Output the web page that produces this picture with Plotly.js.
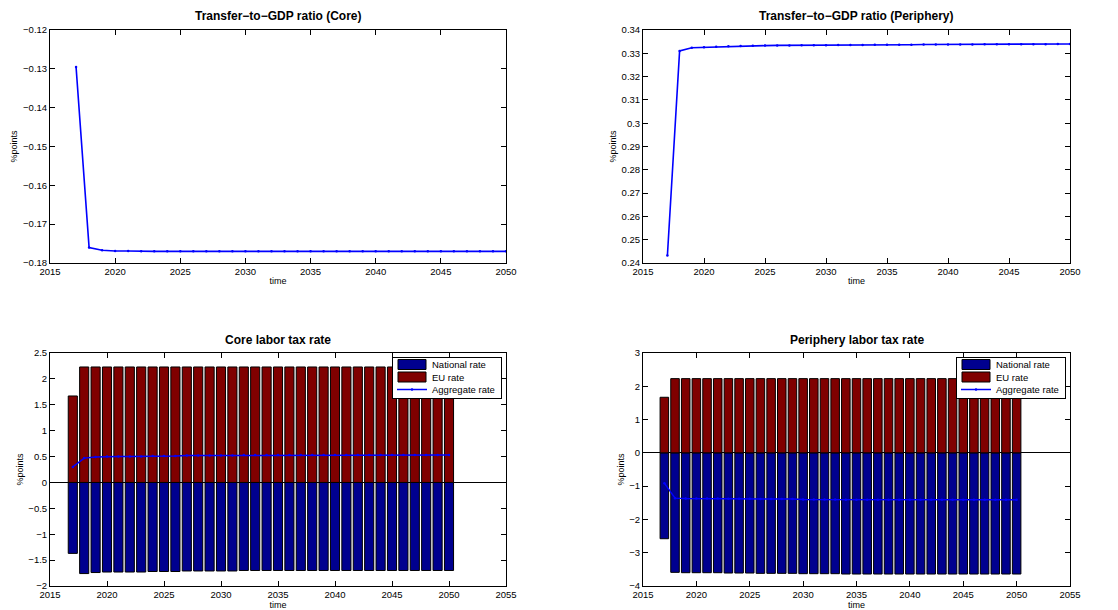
<!DOCTYPE html>
<html><head><meta charset="utf-8">
<script src="https://cdn.plot.ly/plotly-3.0.1.min.js"></script>
<style>html,body{margin:0;padding:0;background:#fff}#c{width:1118px;height:610px}</style>
</head><body><div id="c"></div>
<script>
const years = [2017,2018,2019,2020,2021,2022,2023,2024,2025,2026,2027,2028,2029,2030,2031,2032,2033,2034,2035,2036,2037,2038,2039,2040,2041,2042,2043,2044,2045,2046,2047,2048,2049,2050];

const transferCore = [-0.1295,-0.1760,-0.1767,-0.1769,-0.1769,-0.1770,-0.1770,-0.1770,-0.1770,-0.1770,-0.1770,-0.1770,-0.1770,-0.1770,-0.1770,-0.1770,-0.1770,-0.1770,-0.1770,-0.1770,-0.1770,-0.1770,-0.1770,-0.1770,-0.1770,-0.1770,-0.1770,-0.1770,-0.1770,-0.1770,-0.1770,-0.1770,-0.1770,-0.1770];
const transferPeriphery = [0.2432,0.3310,0.3324,0.3326,0.3328,0.3330,0.3331,0.3332,0.3333,0.3334,0.3334,0.3335,0.3335,0.3335,0.3336,0.3336,0.3336,0.3337,0.3337,0.3337,0.3337,0.3338,0.3338,0.3338,0.3338,0.3338,0.3339,0.3339,0.3339,0.3339,0.3339,0.3339,0.3340,0.3340];

const coreNational = [-1.37,-1.76,-1.74,-1.73,-1.73,-1.73,-1.73,-1.72,-1.72,-1.72,-1.71,-1.71,-1.71,-1.71,-1.71,-1.70,-1.70,-1.70,-1.70,-1.70,-1.70,-1.70,-1.70,-1.70,-1.70,-1.70,-1.70,-1.70,-1.70,-1.70,-1.70,-1.70,-1.70,-1.70];
const coreEU = [1.67,2.23,2.23,2.23,2.23,2.23,2.23,2.23,2.23,2.23,2.23,2.23,2.23,2.23,2.23,2.23,2.23,2.23,2.23,2.23,2.23,2.23,2.23,2.23,2.23,2.23,2.23,2.23,2.23,2.23,2.23,2.23,2.23,2.23];
const coreAggregate = [0.30,0.47,0.49,0.50,0.50,0.50,0.50,0.51,0.51,0.51,0.52,0.52,0.52,0.52,0.52,0.53,0.53,0.53,0.53,0.53,0.53,0.53,0.53,0.53,0.53,0.53,0.53,0.53,0.53,0.53,0.53,0.53,0.53,0.53];

const periNational = [-2.58,-3.59,-3.60,-3.60,-3.60,-3.60,-3.61,-3.61,-3.61,-3.62,-3.62,-3.62,-3.62,-3.63,-3.63,-3.63,-3.63,-3.64,-3.64,-3.64,-3.64,-3.64,-3.64,-3.64,-3.64,-3.64,-3.64,-3.64,-3.64,-3.64,-3.64,-3.64,-3.64,-3.64];
const periEU = [1.67,2.23,2.23,2.23,2.23,2.23,2.23,2.23,2.23,2.23,2.23,2.23,2.23,2.23,2.23,2.23,2.23,2.23,2.23,2.23,2.23,2.23,2.23,2.23,2.23,2.23,2.23,2.23,2.23,2.23,2.23,2.23,2.23,2.23];
const periAggregate = [-0.91,-1.36,-1.37,-1.37,-1.37,-1.37,-1.38,-1.38,-1.38,-1.39,-1.39,-1.39,-1.39,-1.40,-1.40,-1.40,-1.40,-1.41,-1.41,-1.41,-1.41,-1.41,-1.41,-1.41,-1.41,-1.41,-1.41,-1.41,-1.41,-1.41,-1.41,-1.41,-1.41,-1.41];

const titles = ["Transfer\u2212to\u2212GDP ratio (Core)","Transfer\u2212to\u2212GDP ratio (Periphery)","Core labor tax rate","Periphery labor tax rate"];
const seriesNames = ["National rate","EU rate","Aggregate rate"];

const NAVY = "#00008F", MAROON = "#800000", BLUE = "#0000FF";
const FONT = "Liberation Sans, Arial, Helvetica, sans-serif";

function lineTrace(y, xa, ya){
  return {x: years, y: y, xaxis: xa, yaxis: ya, type: "scatter", mode: "lines+markers",
    line: {color: BLUE, width: 1.6}, marker: {color: BLUE, size: 2.5}, showlegend: false, hoverinfo: "x+y"};
}
function barTrace(y, name, color, xa, ya, leg){
  return {x: years, y: y, xaxis: xa, yaxis: ya, type: "bar", name: name, width: 0.8,
    marker: {color: color, line: {color: "#000", width: 1}}, legend: leg};
}
function aggTrace(y, xa, ya, leg){
  return {x: years, y: y, xaxis: xa, yaxis: ya, type: "scatter", mode: "lines+markers", name: seriesNames[2],
    line: {color: BLUE, width: 1.5}, marker: {color: BLUE, size: 2.5}, legend: leg};
}

const data = [
  lineTrace(transferCore, "x", "y"),
  lineTrace(transferPeriphery, "x2", "y2"),
  barTrace(coreNational, seriesNames[0], NAVY, "x3", "y3", "legend"),
  barTrace(coreEU, seriesNames[1], MAROON, "x3", "y3", "legend"),
  aggTrace(coreAggregate, "x3", "y3", "legend"),
  barTrace(periNational, seriesNames[0], NAVY, "x4", "y4", "legend2"),
  barTrace(periEU, seriesNames[1], MAROON, "x4", "y4", "legend2"),
  aggTrace(periAggregate, "x4", "y4", "legend2")
];

const W = 1118, H = 610;
const dL = [50/W, 506/W], dR = [643/W, 1070/W];
const dT = [1-263/H, 1-30/H], dB = [1-586/H, 1-353/H];

function xax(dom, anchor, range){
  return {domain: dom, anchor: anchor, range: range, dtick: 5, tick0: 2015,
    ticks: "inside", ticklen: 5, tickcolor: "#000", showline: true, linecolor: "#000", linewidth: 1,
    mirror: "ticks", showgrid: false, zeroline: false, tickfont: {family: FONT, size: 9.5, color: "#000"},
    title: {text: "time", font: {family: FONT, size: 9, color: "#000"}, standoff: 1}};
}
function yax(dom, anchor, range, dtick, zl){
  return {domain: dom, anchor: anchor, range: range, dtick: dtick, tick0: range[0],
    ticks: "inside", ticklen: 5, tickcolor: "#000", showline: true, linecolor: "#000", linewidth: 1,
    mirror: "ticks", showgrid: false, zeroline: zl, zerolinecolor: "#000", zerolinewidth: 1,
    tickfont: {family: FONT, size: 9.5, color: "#000"},
    title: {text: "%points", font: {family: FONT, size: 9, color: "#000"}, standoff: 3}};
}

const centers = [(dL[0]+dL[1])/2, (dR[0]+dR[1])/2];
const annotations = [
  {text: "<b>"+titles[0]+"</b>", x: centers[0], y: 1-16/H},
  {text: "<b>"+titles[1]+"</b>", x: centers[1], y: 1-16/H},
  {text: "<b>"+titles[2]+"</b>", x: centers[0], y: 1-340/H},
  {text: "<b>"+titles[3]+"</b>", x: centers[1], y: 1-340/H}
].map(a => Object.assign(a, {xref: "paper", yref: "paper", showarrow: false, xanchor: "center", yanchor: "middle",
  font: {family: FONT, size: 12, color: "#000"}}));

const legendStyle = {bgcolor: "#fff", bordercolor: "#000", borderwidth: 1, font: {family: FONT, size: 9.5, color: "#000"},
  traceorder: "normal", xanchor: "right", yanchor: "top", itemwidth: 30, tracegroupgap: 0};

const layout = {
  width: W, height: H, margin: {l: 0, r: 0, t: 0, b: 0}, paper_bgcolor: "#fff", plot_bgcolor: "#fff",
  barmode: "relative", bargap: 0.2, hovermode: "closest",
  xaxis: xax(dL, "y", [2015, 2050]),
  yaxis: yax(dT, "x", [-0.18, -0.12], 0.01, false),
  xaxis2: xax(dR, "y2", [2015, 2050]),
  yaxis2: yax(dT, "x2", [0.24, 0.34], 0.01, false),
  xaxis3: xax(dL, "y3", [2015, 2055]),
  yaxis3: yax(dB, "x3", [-2, 2.5], 0.5, true),
  xaxis4: xax(dR, "y4", [2015, 2055]),
  yaxis4: yax(dB, "x4", [-4, 3], 1, true),
  legend: Object.assign({x: 502/W, y: 1-357/H}, legendStyle),
  legend2: Object.assign({x: 1066/W, y: 1-357/H}, legendStyle),
  annotations: annotations,
  font: {family: FONT}
};

// Compact MATLAB-style legend: tighter rows and wide rectangular swatches
function compactLegends(){
  ["legend", "legend2"].forEach(function(id){
    const g = document.querySelector("g." + id);
    if (!g) return;
    const items = g.querySelectorAll("g.traces");
    const rowH = 12.5, top = 7.5;
    items.forEach(function(it, i){
      it.setAttribute("transform", "translate(0," + (top + i*rowH) + ")");
      it.querySelectorAll("g.legendpoints path").forEach(function(p){
        const d = p.getAttribute("d") || "";
        if (/^M6,6H-6V-6H6Z$/.test(d.replace(/\s/g, ""))) p.setAttribute("d", "M14,5H-14V-5H14Z");
      });
      const r = it.querySelector("rect.legendtoggle");
      if (r) r.setAttribute("height", rowH);
    });
    const bg = g.querySelector("rect.bg");
    if (bg) {
      const newH = 2*top + (items.length - 1)*rowH + 1;
      bg.setAttribute("height", newH);
      const clip = document.querySelectorAll("clipPath rect");
    }
  });
}

Plotly.newPlot("c", data, layout, {displayModeBar: false}).then(compactLegends);
</script>
</body></html>
